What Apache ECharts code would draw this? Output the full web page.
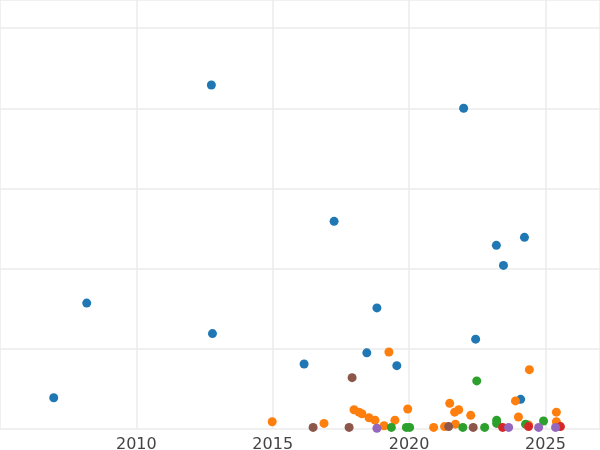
<!DOCTYPE html>
<html>
<head>
<meta charset="utf-8">
<script src="https://cdn.jsdelivr.net/npm/echarts@6/dist/echarts.min.js"></script>
<style>html,body{margin:0;padding:0;background:#fff}#chart{width:600px;height:450px}</style>
</head>
<body>
<div id="chart"></div>
<script>
// [year, value] per group
const blueData = [[2006.97,39],[2008.18,157],[2012.75,429],[2012.79,119],[2016.15,81],[2017.25,259],[2018.45,95],[2018.82,151],[2019.55,79],[2022.0,400],[2022.44,112],[2023.2,229],[2023.46,204],[2024.23,239],[2024.09,37]];
const orangeData = [[2014.98,9],[2016.88,7],[2017.98,24],[2018.16,21],[2018.27,19],[2018.53,14],[2018.75,11],[2019.26,96],[2019.48,11],[2019.95,25],[2019.08,4],[2020.9,2],[2021.49,32],[2021.82,24],[2021.67,21],[2022.26,17],[2021.3,3],[2021.7,6],[2023.9,35],[2024.41,74],[2024.01,15],[2025.4,21],[2025.4,9],[2024.38,5]];
const greenData = [[2022.48,60],[2023.21,11],[2023.21,7],[2024.27,6],[2024.93,10],[2019.9,2],[2020.02,2],[2019.35,2],[2021.97,2],[2022.77,2]];
const brownData = [[2017.91,64],[2016.48,2],[2017.8,2],[2021.45,3],[2022.35,2]];
const redData = [[2023.43,2],[2025.55,3],[2024.38,3]];
const purpleData = [[2018.82,1],[2023.65,2],[2024.75,2],[2025.37,2]];

const groups = [
  ['blue', blueData, '#1f77b4'],
  ['orange', orangeData, '#ff7f0e'],
  ['green', greenData, '#2ca02c'],
  ['brown', brownData, '#8c564b'],
  ['red', redData, '#d62728'],
  ['purple', purpleData, '#9467bd']
];

const chart = echarts.init(document.getElementById('chart'));
chart.setOption({
  animation: false,
  grid: { left: 0, right: 0, top: 0, bottom: 21, containLabel: false, outerBoundsMode: 'none' },
  xAxis: {
    type: 'value', min: 2005, max: 2027, interval: 5,
    axisLine: { show: false }, axisTick: { show: false },
    axisLabel: { color: '#444', fontSize: 16, fontFamily: 'DejaVu Sans',
      showMinLabel: false, showMaxLabel: false,
      formatter: v => (v === 2005 || v === 2027 ? '' : String(v)) },
    splitLine: { lineStyle: { color: '#ebebeb', width: 1.5 } }
  },
  yAxis: {
    type: 'value', min: 0, max: 535, interval: 100,
    axisLine: { show: false }, axisTick: { show: false }, axisLabel: { show: false },
    splitLine: { lineStyle: { color: '#ebebeb', width: 1.5 } }
  },
  series: groups.map(g => ({
    name: g[0], type: 'scatter', data: g[1], symbolSize: 9,
    itemStyle: { color: g[2], opacity: 1 }, clip: true
  }))
});
</script>
</body>
</html>
